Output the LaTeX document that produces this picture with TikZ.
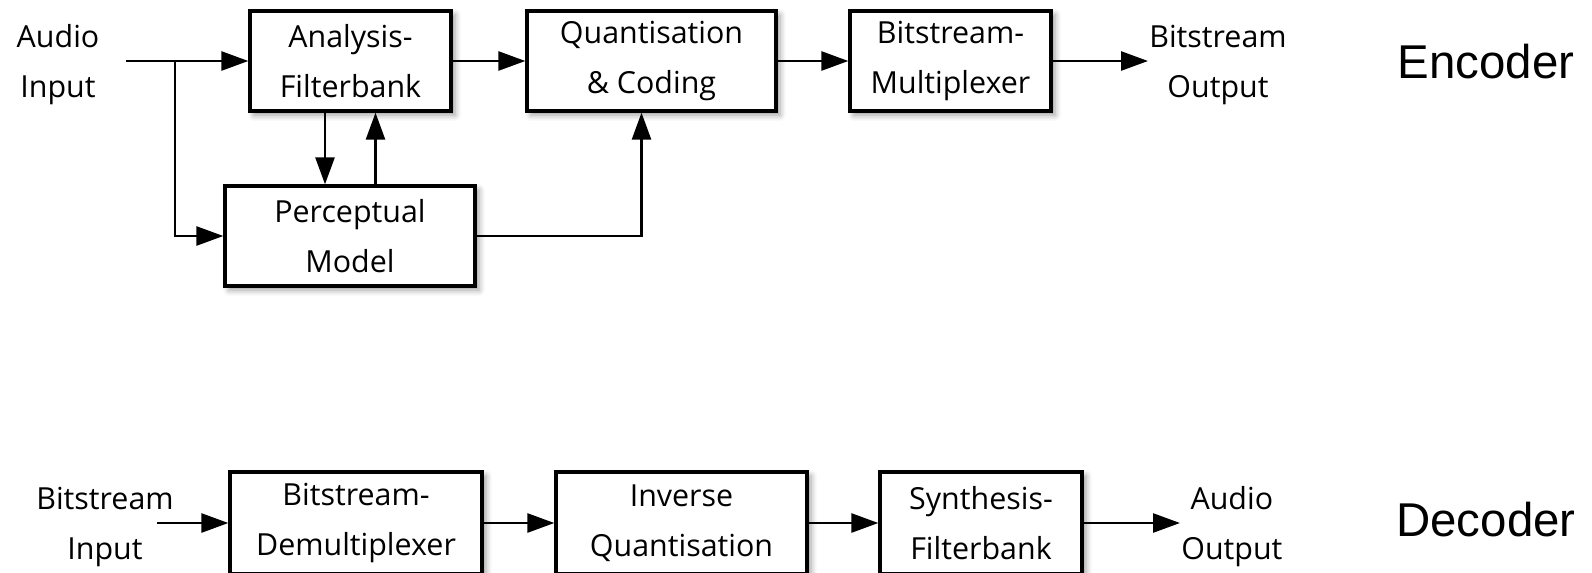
\documentclass[tikz,border=0pt]{standalone}
\usepackage{fontspec}
\setmainfont{Open Sans}
\newfontfamily\partfont{Liberation Sans}
\usetikzlibrary{arrows.meta,shadows.blur}

\begin{document}
\begin{tikzpicture}[x=0.02cm,y=-0.02cm,->,>={Triangle[length=0.54cm,width=0.38cm]},line width=1.5pt]
		\tikzstyle{block}=[draw,line width=1.9pt,fill=white,minimum height=2cm,inner sep=0pt,align=center,font=\fontsize{17.3}{28.5}\selectfont,blur shadow={shadow xshift=0.08cm,shadow yshift=-0.08cm,shadow blur radius=0.12cm,shadow opacity=40}]
		\tikzstyle{io}=[inner sep=0pt,align=center,font=\fontsize{17.3}{28.5}\selectfont]
		\tikzstyle{part}=[inner sep=0pt,font=\partfont\fontsize{27}{32}\selectfont]
		\useasboundingbox (0,0) rectangle (1592,572);

		% encoder
		\node[io](ain) at (58,65){Audio\\Input};
		\node[block,minimum width=4.02cm](ana) at (350.5,61){Analysis-\\Filterbank};
		\node[block,minimum width=4.98cm](quant) at (651.5,61){Quantisation\\\& Coding};
		\node[block,minimum width=4.02cm](mux) at (950.5,61){Bitstream-\\Multiplexer};
		\node[block,minimum width=5cm](perc) at (350,236){Perceptual\\Model};
		\node[io,anchor=west](bout) at (1148,65){Bitstream\\Output};
		\node[part](enc) at (1486,62){Encoder};
		\coordinate (ain-out) at (126,61);
		\coordinate (split) at (175,61);

		\draw (ain-out) -- (ana.west);
		\draw (split) |- (perc.west);
		\draw ([xshift=-0.51cm]ana.south) -- ([xshift=-0.51cm]ana.south |- perc.north);
		\draw ([xshift=0.51cm]perc.north) -- ([xshift=0.51cm]perc.north |- ana.south);
		\draw (ana) -- (quant);
		\draw (quant) -- (mux);
		\draw (mux.east) -- (mux.east -| bout.west);
		\draw (perc.east) -| ([xshift=-0.2cm]quant.south);

		% decoder
		\node[io](bin) at (105,527){Bitstream\\Input};
		\node[block,minimum width=5.04cm,minimum height=2.04cm](demux) at (356,523){Bitstream-\\Demultiplexer};
		\node[block,minimum width=5.02cm,minimum height=2.04cm](invq) at (681.5,523){Inverse\\Quantisation};
		\node[block,minimum width=4.04cm,minimum height=2.04cm](synth) at (981,523){Synthesis-\\Filterbank};
		\node[io,anchor=west](aout) at (1180,527){Audio\\Output};
		\node[part](dec) at (1486,520){Decoder};
		\coordinate (bin-out) at (157,523);

		\draw (bin-out) -- (demux.west);
		\draw (demux) -- (invq);
		\draw (invq) -- (synth);
		\draw (synth.east) -- (synth.east -| aout.west);
	\end{tikzpicture}
\end{document}
